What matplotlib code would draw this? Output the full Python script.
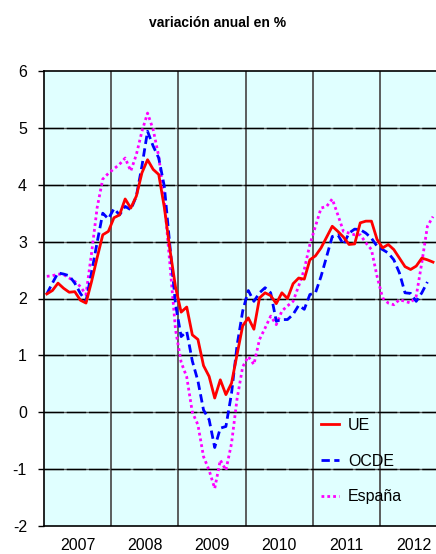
import matplotlib
matplotlib.use("Agg")
from matplotlib import pyplot as plt
import numpy as np

plt.rcParams['font.family'] = ['Liberation Sans', 'DejaVu Sans']

# monthly series, Jan 2007 onwards
ue = [2.08, 2.14, 2.27, 2.18, 2.11, 2.12, 1.97, 1.92, 2.3, 2.72, 3.12, 3.18,
      3.42, 3.47, 3.75, 3.59, 3.8, 4.21, 4.44, 4.27, 4.18, 3.6, 2.86, 2.2,
      1.76, 1.85, 1.36, 1.28, 0.82, 0.63, 0.25, 0.57, 0.31, 0.51, 1.02, 1.52,
      1.66, 1.46, 2.01, 2.1, 2.05, 1.91, 2.1, 2.0, 2.26, 2.36, 2.34, 2.68,
      2.75, 2.89, 3.08, 3.27, 3.18, 3.08, 2.95, 2.96, 3.33, 3.36, 3.36, 3.04,
      2.89, 2.95, 2.86, 2.71, 2.56, 2.51, 2.57, 2.71, 2.68, 2.64]

ocde = [2.08, 2.27, 2.45, 2.43, 2.40, 2.27, 2.09, 1.95, 2.46, 2.99, 3.5, 3.4,
        3.58, 3.47, 3.62, 3.56, 3.8, 4.33, 4.94, 4.68, 4.47, 3.97, 2.92, 1.9,
        1.33, 1.42, 0.9, 0.55, 0.04, -0.13, -0.62, -0.28, -0.25, 0.33, 1.18, 1.78,
        2.14, 1.95, 2.1, 2.19, 2.1, 1.6, 1.63, 1.63, 1.72, 1.88, 1.81, 2.07,
        2.1, 2.39, 2.74, 3.09, 3.12, 2.95, 3.15, 3.22, 3.21, 3.15, 3.06, 2.92,
        2.86, 2.8, 2.68, 2.45, 2.1, 2.09, 1.95, 2.1, 2.29]

espana = [2.39, 2.40, 2.43, 2.42, 2.36, 2.30, 2.21, 2.07, 2.8, 3.6, 4.1, 4.2,
          4.28, 4.36, 4.47, 4.24, 4.53, 4.94, 5.26, 4.97, 4.5, 3.72, 2.6, 1.45,
          0.88, 0.62, 0.0, -0.22, -0.78, -1.02, -1.34, -0.84, -1.02, -0.55, 0.24, 0.8,
          0.98, 0.84, 1.28, 1.48, 1.69, 1.54, 1.78, 1.87, 1.95, 2.22, 2.51, 2.95,
          3.27, 3.59, 3.62, 3.75, 3.47, 3.18, 3.15, 3.12, 3.12, 2.98, 2.86, 2.39,
          2.01, 1.92, 1.89, 1.98, 1.95, 1.92, 2.04, 2.63, 3.27, 3.44]

years = ['2007', '2008', '2009', '2010', '2011', '2012']
y_ticks = [-2, -1, 0, 1, 2, 3, 4, 5, 6]

fig = plt.figure(figsize=(4.36, 5.54), dpi=100)
# right edge of the plot runs past the image border, like the original crop
ax = fig.add_axes([44/436, 28/554, 403/436, 455/554])
ax.set_facecolor('#E0FFFF')

ax.set_xlim(0, 72)
ax.set_ylim(-2, 6)

# grid
for v in y_ticks[1:-1]:
    ax.axhline(v, color='#555555', lw=1.0, zorder=1)
    ax.axhline(v, color='black', lw=1.0, dashes=(14, 2), zorder=1.1)
for k in range(1, 6):
    ax.axvline(12*k, color='#505050', lw=1.3, zorder=1)

x_ue = np.arange(len(ue)) + 0.5
x_ocde = np.arange(len(ocde)) + 0.5
x_esp = np.arange(len(espana)) + 0.5

ax.plot(x_esp, espana, color='#FF00FF', lw=2.0, dashes=(1, 1.1), label='España', zorder=3)
ax.plot(x_ocde, ocde, color='#0000FF', lw=2.0, dashes=(3, 1.6), label='OCDE', zorder=4)
ax.plot(x_ue, ue, color='#FF0000', lw=2.0, label='UE', zorder=5)

ax.set_yticks(y_ticks)
ax.set_yticklabels([str(v) for v in y_ticks], fontsize=11.5)
ax.tick_params(axis='y', direction='out', length=4.3, width=1, pad=8)

ax.set_xticks([12*k + 6 for k in range(6)])
ax.set_xticklabels(years, fontsize=11.5)
ax.tick_params(axis='x', length=0, pad=9)

for s in ['left', 'top', 'bottom']:
    ax.spines[s].set_linewidth(1.2)
    ax.spines[s].set_color('black')
ax.spines['right'].set_visible(False)

handles, labels = ax.get_legend_handles_labels()
order = [2, 1, 0]
fig.legend([handles[i] for i in order], [labels[i] for i in order],
           loc='center left', bbox_to_anchor=(321/436, 93/554),
           frameon=False, fontsize=11.5, handlelength=1.15,
           handletextpad=0.55, labelspacing=1.3, borderpad=0, borderaxespad=0)

fig.text(0.5, 1 - 23/554, 'variación anual en %', ha='center', va='center',
         fontsize=10, fontweight='bold')

plt.savefig('out.png', dpi=100)
